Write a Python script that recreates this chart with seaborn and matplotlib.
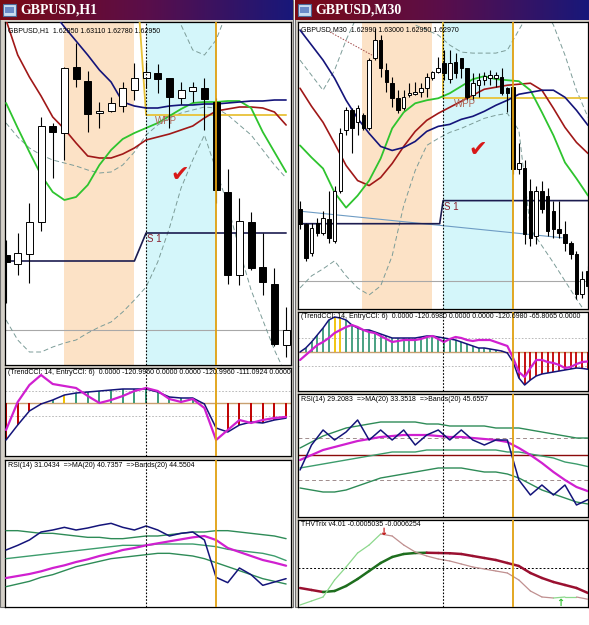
import numpy as np
import matplotlib
matplotlib.use("Agg")
import matplotlib.pyplot as plt
import seaborn as sns
from matplotlib.colors import LinearSegmentedColormap
from matplotlib.patches import Rectangle

# ---------------- GBPUSD H1 (left window) ----------------
h1_open = [1.6145, 1.6136, 1.6146, 1.6178, 1.6274, 1.6267, 1.6333, 1.6319, 1.6287, 1.6289,
           1.6294, 1.6310, 1.6322, 1.6327, 1.6322, 1.6302, 1.6309, 1.6312, 1.6298, 1.6208,
           1.6125, 1.6178, 1.6133, 1.6116, 1.6055]
h1_high = [1.6160, 1.6167, 1.6197, 1.6283, 1.6277, 1.6333, 1.6357, 1.6329, 1.6298, 1.6303,
           1.6318, 1.6337, 1.6338, 1.6336, 1.6322, 1.6318, 1.6318, 1.6322, 1.6302, 1.6231,
           1.6202, 1.6188, 1.6167, 1.6132, 1.6093]
h1_low = [1.6097, 1.6125, 1.6117, 1.6169, 1.6222, 1.6240, 1.6313, 1.6268, 1.6272, 1.6288,
          1.6288, 1.6300, 1.6312, 1.6307, 1.6272, 1.6296, 1.6298, 1.6270, 1.6197, 1.6116,
          1.6115, 1.6130, 1.6105, 1.6054, 1.6043]
h1_close = [1.6138, 1.6147, 1.6178, 1.6274, 1.6268, 1.6332, 1.6321, 1.6286, 1.6289, 1.6297,
            1.6312, 1.6322, 1.6328, 1.6321, 1.6303, 1.6310, 1.6313, 1.6301, 1.6210, 1.6125,
            1.6179, 1.6132, 1.6118, 1.6056, 1.6070]

h1_ma_blue = [1.6460, 1.6440, 1.6420, 1.6400, 1.6388, 1.6373, 1.6359, 1.6345, 1.6330, 1.6318,
              1.6298, 1.6294, 1.6292, 1.6292, 1.6294, 1.6295, 1.6295, 1.6296, 1.6296, 1.6297,
              1.6298, 1.6299, 1.6299, 1.6300, 1.6300]
h1_ma_red = [1.6380, 1.6345, 1.6323, 1.6304, 1.6283, 1.6271, 1.6257, 1.6244, 1.6242, 1.6242,
             1.6246, 1.6252, 1.6260, 1.6263, 1.6266, 1.6270, 1.6274, 1.6282, 1.6289, 1.6291,
             1.6293, 1.6293, 1.6292, 1.6288, 1.6275]
h1_ma_green = [1.6297, 1.6272, 1.6248, 1.6225, 1.6208, 1.6200, 1.6203, 1.6215, 1.6235, 1.6250,
               1.6261, 1.6267, 1.6272, 1.6277, 1.6284, 1.6291, 1.6297, 1.6298, 1.6298, 1.6299,
               1.6299, 1.6292, 1.6268, 1.6248, 1.6228]
h1_band_up = [1.6440, 1.6440, 1.6440, 1.6440, 1.6440, 1.6440, 1.6440, 1.6440, 1.6440, 1.6440,
              1.6440, 1.6430, 1.6420, 1.6410, 1.6395, 1.6375, 1.6350, 1.6345, 1.6360, 1.6390,
              1.6420, 1.6440, 1.6440, 1.6440, 1.6440]
h1_band_mid = [1.6277, 1.6263, 1.6252, 1.6245, 1.6240, 1.6237, 1.6234, 1.6230, 1.6227, 1.6228,
               1.6235, 1.6248, 1.6265, 1.6275, 1.6282, 1.6287, 1.6290, 1.6293, 1.6292, 1.6285,
               1.6275, 1.6265, 1.6250, 1.6235, 1.6222]
h1_band_low = [1.6080, 1.6060, 1.6048, 1.6048, 1.6053, 1.6057, 1.6060, 1.6067, 1.6073, 1.6078,
               1.6088, 1.6100, 1.6113, 1.6138, 1.6172, 1.6212, 1.6240, 1.6265, 1.6230, 1.6195,
               1.6150, 1.6110, 1.6080, 1.6050, 1.6025]
h1_s1_prev, h1_s1_cur, h1_pivot_bar = 1.6139, 1.6167, 12
h1_wpp_prev, h1_wpp_cur = 1.6420, 1.6285
h1_bid = 1.6070

h1_trend_cci = [-296, -176, -64, -8, 24, 64, 80, 88, 96, 104, 112, 112, 112, 88, 48, 40, 40, -8,
                -200, -232, -176, -152, -160, -136, -121]
h1_entry_cci = [-216, 8, 144, 224, 152, 136, 120, 56, 0, 24, 56, 96, 120, 96, 32, 8, 32, -40,
                -296, -216, -136, -160, -136, -120, -111]
h1_cci_yellow = [5, 18]

h1_rsi = [52.5, 56, 60, 66, 67.5, 69.5, 67.5, 69, 71, 72.5, 69.5, 67.5, 70.5, 67.5, 63, 65, 66,
          60, 32, 28, 39, 34, 26, 28.5, 31]
h1_rsi_ma = [31.5, 33, 34.5, 36.5, 39, 41, 43.5, 45.5, 48, 50, 52.5, 54, 56, 57.5, 59, 60.5, 62,
             63, 60, 54, 51, 48, 45, 43, 40.7]
h1_rsi_band_up = [67, 67, 66, 65, 65, 64, 63, 62, 62, 61, 61, 62, 63, 63, 64, 65, 66, 66, 67, 67,
                  66, 65, 64, 63, 61]
h1_rsi_band_mid = [46, 47, 48, 49, 50, 51, 52, 53, 54, 55, 56, 56, 56, 57, 57, 57, 57, 56, 55, 53,
                   52, 51, 50, 48, 44.6]
h1_rsi_band_low = [25, 27, 29, 32, 34, 37, 40, 42, 44, 46, 47, 48, 49, 50, 50, 49, 48, 46, 43, 40,
                   37, 34, 31, 29, 27]

# ---------------- GBPUSD M30 (right window) ----------------
m30_open = [1.6192, 1.6177, 1.6148, 1.6178, 1.6168, 1.6182, 1.6160, 1.6210, 1.6270, 1.6290,
            1.6278, 1.6285, 1.6272, 1.6342, 1.6360, 1.6330, 1.6317, 1.6302, 1.6292, 1.6305,
            1.6306, 1.6308, 1.6312, 1.6322, 1.6328, 1.6337, 1.6321, 1.6338, 1.6342, 1.6332,
            1.6305, 1.6315, 1.6320, 1.6322, 1.6322, 1.6323, 1.6312, 1.6313, 1.6232, 1.6233,
            1.6210, 1.6165, 1.6210, 1.6205, 1.6190, 1.6172, 1.6167, 1.6158, 1.6147, 1.6107,
            1.6130]
m30_high = [1.6200, 1.6178, 1.6178, 1.6183, 1.6190, 1.6210, 1.6215, 1.6272, 1.6293, 1.6292,
            1.6295, 1.6287, 1.6342, 1.6372, 1.6365, 1.6337, 1.6323, 1.6310, 1.6310, 1.6317,
            1.6318, 1.6317, 1.6327, 1.6329, 1.6343, 1.6350, 1.6350, 1.6347, 1.6342, 1.6332,
            1.6327, 1.6327, 1.6328, 1.6330, 1.6328, 1.6332, 1.6313, 1.6313, 1.6257, 1.6240,
            1.6222, 1.6215, 1.6220, 1.6213, 1.6200, 1.6200, 1.6180, 1.6160, 1.6150, 1.6130,
            1.6135]
m30_low = [1.6172, 1.6140, 1.6145, 1.6165, 1.6166, 1.6158, 1.6158, 1.6208, 1.6265, 1.6247,
           1.6265, 1.6270, 1.6270, 1.6340, 1.6323, 1.6308, 1.6293, 1.6287, 1.6290, 1.6303,
           1.6305, 1.6303, 1.6303, 1.6320, 1.6327, 1.6320, 1.6317, 1.6322, 1.6322, 1.6300,
           1.6300, 1.6303, 1.6315, 1.6315, 1.6313, 1.6305, 1.6288, 1.6227, 1.6227, 1.6157,
           1.6155, 1.6157, 1.6188, 1.6165, 1.6163, 1.6163, 1.6150, 1.6142, 1.6102, 1.6103,
           1.6110]
m30_close = [1.6177, 1.6143, 1.6173, 1.6168, 1.6183, 1.6163, 1.6210, 1.6267, 1.6290, 1.6272,
             1.6292, 1.6272, 1.6340, 1.6360, 1.6332, 1.6318, 1.6302, 1.6290, 1.6303, 1.6307,
             1.6308, 1.6312, 1.6323, 1.6328, 1.6332, 1.6327, 1.6337, 1.6327, 1.6332, 1.6303,
             1.6317, 1.6320, 1.6324, 1.6325, 1.6325, 1.6307, 1.6307, 1.6232, 1.6237, 1.6167,
             1.6163, 1.6210, 1.6192, 1.6170, 1.6172, 1.6168, 1.6158, 1.6147, 1.6107, 1.6122,
             1.6115]

# indicator lines on the M30 chart are read every second bar
m30_line_bars = list(range(0, 51, 2))
m30_ma_blue = [1.6370, 1.6355, 1.6340, 1.6322, 1.6300, 1.6282, 1.6267, 1.6254, 1.6250, 1.6253,
               1.6259, 1.6269, 1.6274, 1.6276, 1.6281, 1.6284, 1.6289, 1.6295, 1.6300, 1.6306,
               1.6308, 1.6310, 1.6310, 1.6303, 1.6290, 1.6275]
m30_ma_red = [1.6312, 1.6294, 1.6278, 1.6257, 1.6235, 1.6220, 1.6215, 1.6223, 1.6237, 1.6254,
              1.6269, 1.6280, 1.6287, 1.6293, 1.6299, 1.6305, 1.6311, 1.6313, 1.6315, 1.6316,
              1.6317, 1.6310, 1.6292, 1.6273, 1.6258, 1.6247]
m30_ma_green = [1.6255, 1.6243, 1.6232, 1.6208, 1.6193, 1.6205, 1.6220, 1.6242, 1.6272, 1.6288,
                1.6297, 1.6300, 1.6302, 1.6307, 1.6314, 1.6321, 1.6324, 1.6321, 1.6320, 1.6319,
                1.6310, 1.6288, 1.6265, 1.6238, 1.6222, 1.6205]
m30_band_up = [1.6340, 1.6325, 1.6310, 1.6330, 1.6360, 1.6385, 1.6410, 1.6420, 1.6410, 1.6395,
               1.6375, 1.6370, 1.6365, 1.6355, 1.6348, 1.6347, 1.6347, 1.6347, 1.6350, 1.6370,
               1.6390, 1.6395, 1.6375, 1.6345, 1.6310, 1.6283]
m30_band_low = [1.6113, 1.6125, 1.6132, 1.6140, 1.6125, 1.6113, 1.6106, 1.6115, 1.6145, 1.6195,
                1.6230, 1.6255, 1.6262, 1.6268, 1.6272, 1.6277, 1.6282, 1.6285, 1.6287, 1.6270,
                1.6172, 1.6155, 1.6138, 1.6120, 1.6102, 1.6085]
m30_s1_prev, m30_s1_cur, m30_pivot_bar = 1.6177, 1.6200, 24.85
m30_wpp_prev, m30_wpp_cur = 1.6400, 1.6302
m30_bid = 1.6120
m30_trend_x, m30_trend_y = [-0.9, 45.5], [1.6190, 1.6163]
m30_dot_x, m30_dot_y = [5.2, 12.5], [1.6368, 1.6345]

m30_trend_cci = [0, 28, 70, 119, 168, 224, 245, 238, 224, 189,
                 168, 154, 154, 140, 126, 112, 98, 98, 98, 98,
                 98, 105, 112, 112, 105, 98, 91, 84, 70, 56,
                 42, 28, 28, 21, 14, 7, -7, -70, -182, -231,
                 -196, -168, -154, -147, -140, -133, -126, -119, -112, -115,
                 -121]
m30_entry_cci = [-56, -21, 14, 49, 70, 98, 133, 154, 175, 189,
                 175, 154, 140, 133, 112, 91, 70, 77, 84, 84,
                 84, 91, 105, 112, 91, 70, 91, 105, 98, 84,
                 77, 84, 84, 84, 70, 56, 42, -42, -140, -175,
                 -112, -56, -56, -70, -77, -91, -112, -105, -84, -70,
                 -66]
m30_cci_yellow = [6, 7]

m30_rsi = [44, 56.5, 64, 59, 63, 69, 59, 64, 59, 64, 56.5, 61.5, 64, 59, 64, 59, 56.5, 59, 59,
           39, 31.5, 36.5, 31.5, 36.5, 26.5, 29.2]
m30_rsi_ma = [49, 51.5, 54, 55.5, 57, 58.5, 59.5, 60.5, 61, 61.5, 61.5, 61.5, 61, 60.5, 60.5, 60,
              59.5, 59, 58, 55, 51.5, 47.5, 43, 39, 35.5, 33.4]
m30_rsi_band_up = [55, 58, 61, 63, 65, 66, 67, 68, 68, 68, 68, 67, 67, 66, 66, 66, 66, 65, 65, 65,
                   64, 63, 62, 61, 60, 60]
m30_rsi_band_mid = [45, 46, 47, 48, 49, 50, 51, 52, 53, 53, 53, 54, 54, 54, 54, 54, 54, 54, 53, 53,
                    52, 51, 50, 48, 47, 45.7]
m30_rsi_band_low = [35, 34, 33, 33, 34, 36, 38, 40, 41, 42, 43, 44, 45, 45, 45, 44, 43, 43, 42, 40,
                    37, 34, 32, 30, 28, 27]
m30_rsi_levels = [60, 51.5, 39]

# THV Trix, in units of 1e-5
m30_trix_slow = [-40, -44, -48, -46, -36, -22, -6, 10, 22, 28, 30, 30.5, 30, 29.5, 28, 24, 20, 16,
                 10, 4, -10, -20, -28, -34, -40, -50]
m30_trix_fast = [-74, -66, -58, -24, 2, 30, 46, 68, 64, 46, 32, 24, 18, 14, 8, 2, -2, -6, -10,
                 -24, -46, -58, -60, -58, -58, -62.5]

# ---------------- figure ----------------
W, H = 589, 625
sns.set_theme(style="white")
plt.rcParams['font.family'] = ['Liberation Sans', 'DejaVu Sans']

fig = plt.figure(figsize=(W / 100, H / 100), dpi=100)
fig.patch.set_facecolor('white')

NAVY, RED, GREEN = '#14147A', '#A01818', '#2EC42E'
BAND = '#7C9C98'
PEACH, CYAN = '#FCE2C6', '#D4F6FA'
GOLD, ORANGE = '#E8C238', '#E0A010'
MAGENTA = '#D020D0'

# window chrome
for x0, x1 in [(0, 293), (295, 589)]:
    fig.patches.append(Rectangle((x0 / W, 1 - 607 / H), (x1 - x0) / W, 607 / H,
                                 transform=fig.transFigure, facecolor='#D4D0C8',
                                 edgecolor='#707070', lw=0.8, zorder=-10))

title_cmap = LinearSegmentedColormap.from_list('tb', ['#7A0A14', '#5A0E4A', '#18187A'])


def title_bar(x0, x1, label):
    tax = fig.add_axes([x0 / W, 1 - 20 / H, (x1 - x0) / W, 20 / H])
    tax.imshow(np.linspace(0, 1, 256)[None, :], aspect='auto', cmap=title_cmap,
               extent=[x0, x1, 0, 20])
    tax.add_patch(Rectangle((x0 + 3, 4), 13, 12, facecolor='#C8DCF0', edgecolor='#4A6A9A', lw=0.8))
    tax.add_patch(Rectangle((x0 + 5, 7), 9, 6, facecolor='#6A8AC8', edgecolor='none'))
    tax.text(x0 + 20, 10, label, color='white', fontsize=10, fontweight='bold',
             family=['Liberation Serif', 'DejaVu Serif'], va='center', ha='left')
    tax.set_xlim(x0, x1)
    tax.set_ylim(0, 20)
    tax.axis('off')


def panel(x0, y0, x1, y1):
    ax = fig.add_axes([x0 / W, 1 - y1 / H, (x1 - x0) / W, (y1 - y0) / H])
    ax.set_facecolor('white')
    ax.set_xticks([])
    ax.set_yticks([])
    for s in ax.spines.values():
        s.set_visible(True)
        s.set_color('black')
        s.set_linewidth(0.9)
    return ax


def line(ax, x, y, color, lw=1.2, ls='-', z=3):
    sns.lineplot(x=list(x), y=list(y), ax=ax, color=color, linewidth=lw, linestyle=ls,
                 estimator=None, sort=False, legend=False, zorder=z)
    ax.set_xlabel('')
    ax.set_ylabel('')


def header(ax, txt):
    ax.text(0.012, 0.985, txt, transform=ax.transAxes, fontsize=5.0, va='top', ha='left',
            color='black', zorder=10)


def candles(ax, o, h, l, c, width):
    o, h, l, c = (np.asarray(v) for v in (o, h, l, c))
    x = np.arange(len(o))
    ax.vlines(x, l, h, color='black', lw=0.8, zorder=4)
    body = np.maximum(np.abs(c - o), 0.00012)
    ax.bar(x, body, bottom=np.minimum(o, c), width=width,
           color=np.where(c >= o, 'white', 'black'), edgecolor='black', linewidth=0.7, zorder=5)


def markers(ax, dotted_x, orange_x):
    ax.axvline(dotted_x, color='black', lw=0.8, ls=(0, (1.5, 1.5)), zorder=6)
    ax.axvline(orange_x, color=ORANGE, lw=1.3, zorder=6)


def cci_panel(ax, trend, entry, yellow, lw):
    x = np.arange(len(trend))
    cols = [('#F0C000' if i in yellow else ('#3A9A78' if v >= 0 else '#C00000'))
            for i, v in enumerate(trend)]
    ax.vlines(x, 0, trend, colors=cols, lw=lw, zorder=2)
    ax.axhline(0, color='#C8A070', lw=1.0, zorder=1)
    ax.axhline(100, color='#B0B0B0', lw=0.6, ls=(0, (2, 2)), zorder=1)
    ax.axhline(-100, color='#B0B0B0', lw=0.6, ls=(0, (2, 2)), zorder=1)
    line(ax, x, trend, NAVY, lw=1.1)
    line(ax, x, entry, MAGENTA, lw=1.6)


title_bar(0, 293, 'GBPUSD,H1')
title_bar(295, 589, 'GBPUSD,M30')

# ----- left main -----
h1_x = np.arange(len(h1_open))
h1_xlim = (-0.09, 24.42)
ax = panel(5, 22, 291, 365)
ax.axvspan(5, 11, color=PEACH, zorder=0, lw=0)
ax.axvspan(12, 18, color=CYAN, zorder=0, lw=0)
ax.axhline(h1_bid, color='#A8A8A8', lw=0.8, zorder=1)
for band in (h1_band_up, h1_band_mid, h1_band_low):
    line(ax, h1_x, band, BAND, lw=0.7, ls=(0, (5, 3)), z=2)
line(ax, [h1_x[0], h1_pivot_bar - 1, h1_pivot_bar, h1_x[-1]],
     [h1_s1_prev, h1_s1_prev, h1_s1_cur, h1_s1_cur], '#1C1C50', lw=1.2)
line(ax, [h1_pivot_bar - 0.8, h1_pivot_bar, h1_x[-1]],
     [h1_wpp_prev, h1_wpp_cur, h1_wpp_cur], GOLD, lw=1.3)
line(ax, h1_x, h1_ma_red, RED, lw=1.2)
line(ax, h1_x, h1_ma_green, GREEN, lw=1.3)
line(ax, h1_x, h1_ma_blue, NAVY, lw=1.2)
candles(ax, h1_open, h1_high, h1_low, h1_close, 0.6)
markers(ax, 12, 18)
ax.text(h1_pivot_bar + 0.1, h1_s1_cur - 0.0001, 'S 1', color='#8A2030', fontsize=7, va='top', zorder=7)
ax.text(h1_pivot_bar + 0.8, h1_wpp_cur - 0.0001, 'WPP', color='#B06858', fontsize=7, va='top', zorder=7)
ax.text(14.9, 1.6225, '\u2714', color='#D81818', fontsize=16, ha='center', va='center', zorder=7,
        family='DejaVu Sans')
header(ax, 'GBPUSD,H1  1.62950 1.63110 1.62780 1.62950')
ax.set_xlim(*h1_xlim)
ax.set_ylim(1.6035, 1.6378)

# ----- left CCI -----
ax = panel(5, 368, 291, 456)
cci_panel(ax, h1_trend_cci, h1_entry_cci, h1_cci_yellow, 1.4)
markers(ax, 12, 18)
header(ax, '(TrendCCI: 14, EntryCCI: 6)  0.0000 -120.9960 0.0000 0.0000 -120.9960 -111.0924 0.0000')
ax.set_xlim(*h1_xlim)
ax.set_ylim(-424, 280)

# ----- left RSI -----
ax = panel(5, 460, 291, 607)
line(ax, h1_x, h1_rsi_band_up, '#2E8B57', lw=1.0)
line(ax, h1_x, h1_rsi_band_mid, '#3C9C6C', lw=1.0)
line(ax, h1_x, h1_rsi_band_low, '#2E8B57', lw=1.0)
line(ax, h1_x, h1_rsi_ma, MAGENTA, lw=1.6)
line(ax, h1_x, h1_rsi, NAVY, lw=1.1)
markers(ax, 12, 18)
header(ax, 'RSI(14) 31.0434  =>MA(20) 40.7357  =>Bands(20) 44.5504')
ax.set_xlim(*h1_xlim)
ax.set_ylim(9.75, 120)

# ----- right main -----
m30_x = np.arange(len(m30_open))
m30_xlim = (-0.35, 50.0)
ax = panel(298, 22, 588, 309)
ax.axvspan(10.8, 22.9, color=PEACH, zorder=0, lw=0)
ax.axvspan(24.85, 37, color=CYAN, zorder=0, lw=0)
ax.axhline(m30_bid, color='#A8A8A8', lw=0.8, zorder=1)
for band in (m30_band_up, m30_band_low):
    line(ax, m30_line_bars, band, BAND, lw=0.7, ls=(0, (5, 3)), z=2)
line(ax, m30_dot_x, m30_dot_y, '#A04848', lw=0.7, ls=(0, (1.5, 1.5)), z=2)
line(ax, m30_trend_x, m30_trend_y, '#6E9CC4', lw=0.8, z=2)
line(ax, [m30_xlim[0], m30_pivot_bar - 0.6, m30_pivot_bar, m30_xlim[1]],
     [m30_s1_prev, m30_s1_prev, m30_s1_cur, m30_s1_cur], '#1C1C50', lw=1.2)
line(ax, [m30_pivot_bar, m30_pivot_bar, m30_xlim[1]],
     [m30_wpp_prev, m30_wpp_cur, m30_wpp_cur], GOLD, lw=1.3)
line(ax, m30_line_bars, m30_ma_red, RED, lw=1.2)
line(ax, m30_line_bars, m30_ma_green, GREEN, lw=1.3)
line(ax, m30_line_bars, m30_ma_blue, NAVY, lw=1.2)
candles(ax, m30_open, m30_high, m30_low, m30_close, 0.62)
markers(ax, 24.85, 37)
ax.text(m30_pivot_bar + 0.2, m30_s1_cur - 0.0001, 'S 1', color='#8A2030', fontsize=7, va='top', zorder=7)
ax.text(m30_pivot_bar + 1.8, m30_wpp_cur - 0.0001, 'WPP', color='#B06858', fontsize=7, va='top', zorder=7)
ax.text(30.9, 1.6250, '\u2714', color='#D81818', fontsize=16, ha='center', va='center', zorder=7,
        family='DejaVu Sans')
header(ax, 'GBPUSD,M30  1.62990 1.63000 1.62950 1.62970')
ax.set_xlim(*m30_xlim)
ax.set_ylim(1.6092, 1.6378)

# ----- right CCI -----
ax = panel(298, 312, 588, 391)
cci_panel(ax, m30_trend_cci, m30_entry_cci, m30_cci_yellow, 1.3)
markers(ax, 24.85, 37)
header(ax, '(TrendCCI: 14, EntryCCI: 6)  0.0000 -120.6980 0.0000 0.0000 -120.6980 -65.8065 0.0000')
ax.set_xlim(*m30_xlim)
ax.set_ylim(-273, 280)

# ----- right RSI -----
ax = panel(298, 394, 588, 517)
ax.axhline(m30_rsi_levels[0], color='#A08C8C', lw=0.7, ls=(0, (4, 3)), zorder=1)
ax.axhline(m30_rsi_levels[1], color='#8B0A0A', lw=1.0, zorder=1)
ax.axhline(m30_rsi_levels[2], color='#A08C8C', lw=0.7, ls=(0, (4, 3)), zorder=1)
line(ax, m30_line_bars, m30_rsi_band_up, '#2E8B57', lw=1.0)
line(ax, m30_line_bars, m30_rsi_band_mid, '#3C9C6C', lw=1.0)
line(ax, m30_line_bars, m30_rsi_band_low, '#2E8B57', lw=1.0)
line(ax, m30_line_bars, m30_rsi_ma, MAGENTA, lw=1.6)
line(ax, m30_line_bars, m30_rsi, NAVY, lw=1.1)
markers(ax, 24.85, 37)
header(ax, 'RSI(14) 29.2083  =>MA(20) 33.3518  =>Bands(20) 45.6557')
ax.set_xlim(*m30_xlim)
ax.set_ylim(20.5, 82)

# ----- right THV Trix -----
ax = panel(298, 520, 588, 607)
ax.axhline(0, color='black', lw=0.7, ls=(0, (2, 2)), zorder=1)
for series, up_c, dn_c, lw in ((m30_trix_slow, '#1E6E1E', '#9A1030', 1.8),
                               (m30_trix_fast, '#8CD88C', '#C09090', 0.9)):
    for i in range(len(series) - 1):
        c = up_c if series[i + 1] >= series[i] else dn_c
        ax.plot(m30_line_bars[i:i + 2], series[i:i + 2], color=c, lw=lw, zorder=3,
                solid_capstyle='round')
ax.text(14.4, 72, '\u2193', color='#C01010', fontsize=7, fontweight='bold', ha='center',
        va='center', family='DejaVu Sans', zorder=7)
ax.text(45.1, -70, '\u2191', color='#30C030', fontsize=7, fontweight='bold', ha='center',
        va='center', family='DejaVu Sans', zorder=7)
markers(ax, 24.85, 37)
header(ax, 'THVTrix v4.01 -0.0005035 -0.0006254')
ax.set_xlim(*m30_xlim)
ax.set_ylim(-78, 96)

fig.savefig('out.png', dpi=100)
